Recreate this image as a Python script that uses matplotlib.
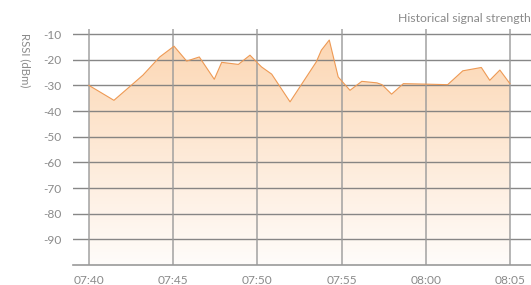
import numpy as np
import matplotlib
matplotlib.use("Agg")
import matplotlib.pyplot as plt
from matplotlib.patches import Polygon

# minutes after 07:40
minutes = [0.0, 1.48, 2.5, 3.2, 4.2, 5.05, 5.8, 6.55, 7.44, 7.88, 8.87, 9.56, 10.05,
           10.25, 10.85, 11.94, 13.5, 13.8, 14.27, 14.8, 15.5, 16.2, 17.1, 17.4,
           17.97, 18.67, 20.05, 21.3, 22.2, 23.3, 23.8, 24.4, 25.0]
rssi = [-30, -35.8, -30, -26, -18.9, -14.7, -20.5, -18.9, -27.6, -21, -21.8, -18.2, -21.5,
        -22.8, -25.6, -36.4, -20.8, -16.25, -12.3, -26.7, -31.9, -28.4, -29, -29.7,
        -33.4, -29.3, -29.5, -29.7, -24.3, -23, -28, -24, -29.3]
x_ticks = [0, 5, 10, 15, 20, 25]
x_labels = ["07:40", "07:45", "07:50", "07:55", "08:00", "08:05"]
y_ticks = [-10, -20, -30, -40, -50, -60, -70, -80, -90]

W, H = 531, 285
fig = plt.figure(figsize=(W / 100, H / 100), dpi=100)
ax = fig.add_axes([73 / W, 20 / H, 1 - 73 / W, (265 - 29) / H])
ax.set_xlim(-0.95, 26.25)
ax.set_ylim(-100, -8)

gray = "#8a8a8a"
for y in y_ticks:
    ax.axhline(y, color="#7a7a7a", lw=1.0, zorder=3, alpha=0.9)
for x in x_ticks:
    ax.axvline(x, color="#9a9a9a", lw=1.2, zorder=3, alpha=0.85)

# gradient fill
xs = np.array(minutes)
ys = np.array(rssi)
verts = np.vstack([np.column_stack([xs, ys]), [[xs[-1], -100], [xs[0], -100]]])
poly = Polygon(verts, closed=True, facecolor="none", edgecolor="none")
ax.add_patch(poly)
grad = np.linspace(0, 1, 256).reshape(-1, 1)
top = np.array([252, 214, 178]) / 255
bot = np.array([255, 252, 250]) / 255
img = top[None, None, :] * (1 - grad[:, :, None]) + bot[None, None, :] * grad[:, :, None]
im = ax.imshow(img, extent=[xs[0], xs[-1], -100, -10], origin="upper",
               aspect="auto", zorder=1)
im.set_clip_path(poly)
ax.plot(xs, ys, color="#ee9a55", lw=0.8, zorder=4)

for s in ["left", "right", "top"]:
    ax.spines[s].set_visible(False)
ax.spines["bottom"].set_color("#9a9a9a")
ax.spines["bottom"].set_linewidth(1.2)

ax.set_xticks(x_ticks)
ax.set_xticklabels(x_labels)
ax.set_yticks(y_ticks)
ax.set_yticklabels([str(v) for v in y_ticks])
ax.tick_params(axis="both", length=0, colors=gray, labelsize=8.6)
ax.tick_params(axis="y", pad=8)
ax.tick_params(axis="x", pad=7)
for lab in ax.get_xticklabels() + ax.get_yticklabels():
    lab.set_family("Lato")

fig.text(25 / W, 1 - 60 / H, "RSSI (dBm)", rotation=270, ha="center", va="center",
         color=gray, fontsize=8.2, family="Lato")
fig.text(1.0, 1 - 18 / H, "Historical signal strength", ha="right", va="center",
         color="#8a8a8a", fontsize=8.8, family="Lato")

fig.savefig("out.png", dpi=100)
